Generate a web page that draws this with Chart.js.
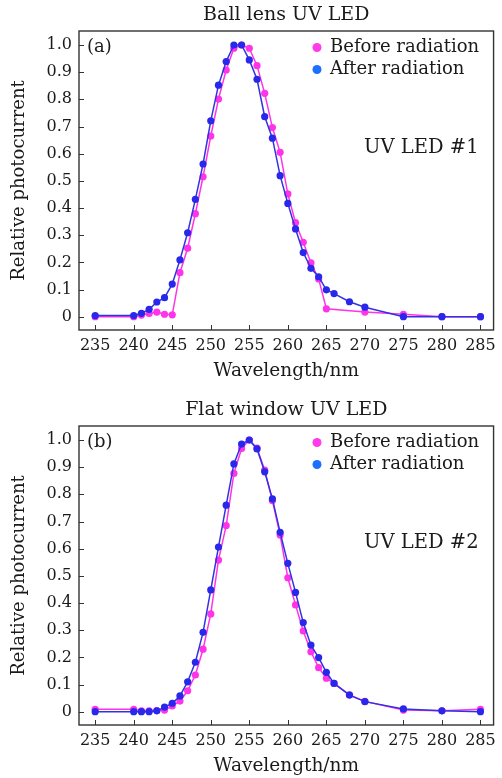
<!DOCTYPE html>
<html><head><meta charset="utf-8">
<script src="https://cdn.jsdelivr.net/npm/chart.js@4/dist/chart.umd.min.js"></script>
<style>
html,body{margin:0;padding:0;background:#fff;}
.w{position:absolute;left:0;width:502px;}
canvas{display:block;}
</style>
</head><body>
<div class="w" style="top:0;height:390px"><canvas id="c1" width="502" height="390"></canvas></div>
<div class="w" style="top:390px;height:388px"><canvas id="c2" width="502" height="388"></canvas></div>
<script>
// ---- data ----
const wavelengthTicks = [235, 240, 245, 250, 255, 260, 265, 270, 275, 280, 285];
const yTicks = [0, 0.1, 0.2, 0.3, 0.4, 0.5, 0.6, 0.7, 0.8, 0.9, 1.0];
const seriesNames = ['Before radiation', 'After radiation'];

const ballBeforeX = [235, 240, 241, 242, 243, 244, 245, 246, 247, 248, 249, 250, 251, 252, 253, 254, 255, 256, 257, 258, 259, 260, 261, 262, 263, 264, 265, 270, 275, 280, 285];
const ballBeforeY = [0, 0, 0.006, 0.012, 0.017, 0.009, 0.007, 0.162, 0.252, 0.379, 0.515, 0.665, 0.801, 0.908, 0.988, 1.0, 0.988, 0.924, 0.822, 0.696, 0.605, 0.452, 0.346, 0.274, 0.198, 0.139, 0.029, 0.017, 0.009, 0, 0];
const ballAfterX = [235, 240, 241, 242, 243, 244, 245, 246, 247, 248, 249, 250, 251, 252, 253, 254, 255, 256, 257, 258, 259, 260, 261, 262, 263, 264, 265, 266, 268, 270, 275, 280, 285];
const ballAfterY = [0.004, 0.004, 0.0125, 0.027, 0.054, 0.07, 0.12, 0.209, 0.309, 0.432, 0.562, 0.721, 0.852, 0.939, 1.0, 1.0, 0.945, 0.874, 0.736, 0.657, 0.519, 0.417, 0.323, 0.236, 0.178, 0.147, 0.099, 0.085, 0.055, 0.035, 0, 0, 0];

const flatX = [235, 240, 241, 242, 243, 244, 245, 246, 247, 248, 249, 250, 251, 252, 253, 254, 255, 256, 257, 258, 259, 260, 261, 262, 263, 264, 265, 266, 268, 270, 275, 280, 285];
const flatBeforeY = [0.009, 0.009, 0.003, 0.003, 0.004, 0.006, 0.021, 0.039, 0.077, 0.135, 0.23, 0.36, 0.558, 0.685, 0.877, 0.969, 1.0, 0.97, 0.889, 0.777, 0.65, 0.493, 0.393, 0.297, 0.221, 0.162, 0.123, 0.104, 0.062, 0.038, 0.006, 0.003, 0.009];
const flatAfterY = [0, 0, 0, 0, 0.003, 0.017, 0.031, 0.058, 0.11, 0.182, 0.292, 0.448, 0.606, 0.76, 0.912, 0.985, 1.0, 0.967, 0.883, 0.783, 0.66, 0.546, 0.439, 0.328, 0.245, 0.199, 0.145, 0.104, 0.061, 0.037, 0.01, 0.003, 0];

// ---- styles ----
const FONT = "'DejaVu Serif', serif";
const TXT = '#1a1a1a';
const PINK = 'rgb(255,51,232)';
const BLUE_LINE = 'rgb(50,50,225)';
const BLUE_PT = 'rgb(40,40,235)';
const LEG_COLORS = ['rgb(255,60,232)', 'rgb(30,110,255)'];

function pts(xs, ys) { return xs.map((x, i) => ({ x: x, y: ys[i] })); }

const framePlugin = {
  id: 'frame',
  afterDatasetsDraw(chart) {
    const ctx = chart.ctx, a = chart.chartArea;
    const xs = chart.scales.x, ys = chart.scales.y;
    ctx.save();
    ctx.strokeStyle = '#333';
    ctx.lineWidth = 1;
    ctx.beginPath();
    xs.ticks.forEach(t => {
      const p = Math.round(xs.getPixelForValue(t.value)) + 0.5;
      ctx.moveTo(p, a.bottom); ctx.lineTo(p, a.bottom - 5);
    });
    ys.ticks.forEach(t => {
      const p = Math.round(ys.getPixelForValue(t.value)) + 0.5;
      ctx.moveTo(a.left, p); ctx.lineTo(a.left + 5, p);
    });
    ctx.stroke();
    ctx.lineWidth = 1.4;
    ctx.strokeRect(a.left, a.top, a.right - a.left, a.bottom - a.top);
    // annotations
    const o = chart.options.plugins.frame;
    ctx.fillStyle = TXT;
    ctx.textBaseline = 'middle';
    ctx.textAlign = 'left';
    ctx.font = '18px ' + FONT;
    ctx.fillText(o.tag, a.left + 8, a.top + 16.5);
    ctx.textAlign = 'right';
    ctx.font = '19.5px ' + FONT;
    ctx.fillText(o.label, a.right - 15, a.top + 117);
    // legend
    ctx.font = '18px ' + FONT;
    chart.data.datasets.forEach((ds, i) => {
      const y = a.top + 16.5 + i * 22;
      ctx.fillStyle = LEG_COLORS[i];
      ctx.beginPath(); ctx.arc(a.left + 238, y, 4.5, 0, Math.PI * 2); ctx.fill();
      ctx.fillStyle = TXT;
      ctx.textAlign = 'left';
      ctx.fillText(ds.label, a.left + 251, y);
    });
    ctx.restore();
  }
};

function makeChart(id, title, before, after, cfg) {
  return new Chart(document.getElementById(id), {
    type: 'line',
    data: {
      datasets: [
        { label: seriesNames[0], data: before, borderColor: PINK, backgroundColor: PINK, pointBackgroundColor: PINK, pointBorderWidth: 0, pointRadius: 3.6, borderWidth: 1.5, order: 1, tension: 0 },
        { label: seriesNames[1], data: after, borderColor: BLUE_LINE, backgroundColor: BLUE_PT, pointBackgroundColor: BLUE_PT, pointBorderWidth: 0, pointRadius: 3.6, borderWidth: 1.5, order: 0, tension: 0 }
      ]
    },
    options: {
      responsive: false,
      animation: false,
      events: [],
      layout: { padding: { left: 0, right: 8, top: 0, bottom: 0 } },
      plugins: {
        legend: { display: false },
        tooltip: { enabled: false },
        title: { display: true, text: title, fullSize: false, color: TXT, font: { family: FONT, size: 19, weight: 'normal', lineHeight: 1.2 }, padding: { top: cfg.titleTop, bottom: cfg.titleBottom } },
        frame: { tag: cfg.tag, label: cfg.label }
      },
      scales: {
        x: {
          type: 'linear', min: 232.9, max: 286.7,
          afterBuildTicks: s => { s.ticks = wavelengthTicks.map(v => ({ value: v })); },
          afterFit: s => { s.height = cfg.xHeight; },
          grid: { display: false, drawTicks: false },
          border: { display: false },
          ticks: { color: TXT, font: { family: FONT, size: 16 }, padding: 6, maxRotation: 0, autoSkip: false, callback: v => String(v) },
          title: { display: true, text: 'Wavelength/nm', color: TXT, font: { family: FONT, size: 18.5, lineHeight: 1.2 }, padding: { top: 0, bottom: cfg.xTitleBottom } }
        },
        y: {
          type: 'linear', min: -0.049, max: 1.0515,
          afterBuildTicks: s => { s.ticks = yTicks.map(v => ({ value: v })); },
          afterFit: s => { s.width = 79; },
          grid: { display: false, drawTicks: false },
          border: { display: false },
          ticks: { color: TXT, font: { family: FONT, size: 16 }, padding: 7, autoSkip: false, callback: v => (v === 0 ? '0' : v.toFixed(1)) },
          title: { display: true, text: 'Relative photocurrent', color: TXT, font: { family: FONT, size: 18, lineHeight: 1.2 }, padding: { top: 9, bottom: 0 } }
        }
      }
    },
    plugins: [framePlugin]
  });
}

makeChart('c1', 'Ball lens UV LED', pts(ballBeforeX, ballBeforeY), pts(ballAfterX, ballAfterY),
  { tag: '(a)', label: 'UV LED #1', titleTop: 3.6, titleBottom: 4.6, xHeight: 60, xTitleBottom: 7.3 });
makeChart('c2', 'Flat window UV LED', pts(flatX, flatBeforeY), pts(flatX, flatAfterY),
  { tag: '(b)', label: 'UV LED #2', titleTop: 8.6, titleBottom: 4.6, xHeight: 53, xTitleBottom: 0.4 });
</script>
</body></html>
